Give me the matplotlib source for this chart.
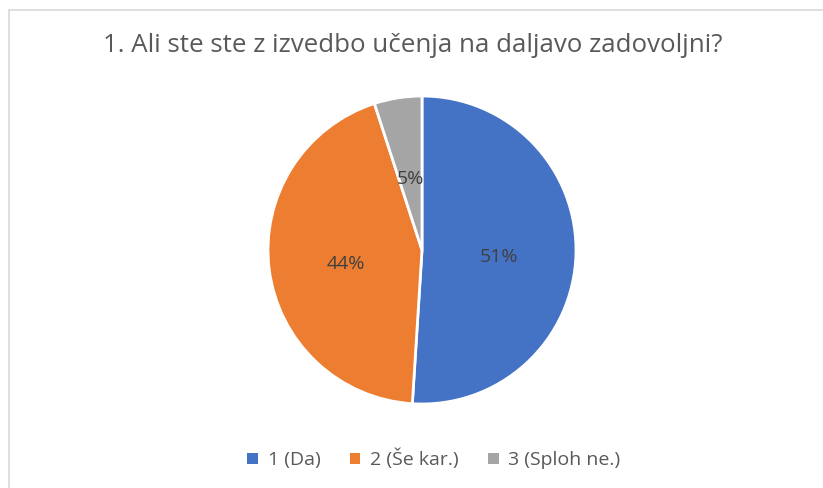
import matplotlib
matplotlib.use("Agg")
import matplotlib.pyplot as plt
from matplotlib.lines import Line2D
from matplotlib.patches import Rectangle

title = "1. Ali ste ste z izvedbo učenja na daljavo zadovoljni?"
categories = ["1 (Da)", "2 (Še kar.)", "3 (Sploh ne.)"]
values = [51, 44, 5]
colors = ["#4472C4", "#ED7D31", "#A5A5A5"]

plt.rcParams['font.family'] = ['Open Sans', 'DejaVu Sans']
W, H = 823, 488
fig = plt.figure(figsize=(W / 100, H / 100), dpi=100)
fig.patch.set_facecolor("white")

# chart frame
fig.add_artist(Line2D([8.5 / W, 8.5 / W], [0, 1 - 9.5 / H], color="#D9D9D9", lw=1.2))
fig.add_artist(Line2D([8.5 / W, 1], [1 - 9.5 / H, 1 - 9.5 / H], color="#D9D9D9", lw=1.2))

fig.text(413 / W, 1 - 46 / H, title, ha="center", va="center", fontsize=18.6, color="#595959")

r = 154
cx, cy = 422, 250
ax = fig.add_axes([(cx - r) / W, 1 - (cy + r) / H, 2 * r / W, 2 * r / H])
wedges, texts, autotexts = ax.pie(
    values, colors=colors, startangle=90, counterclock=False,
    autopct=lambda p: f"{p:.0f}%", pctdistance=0.5,
    wedgeprops=dict(edgecolor="white", linewidth=2),
    textprops=dict(color="#404040", fontsize=14),
)
for t in autotexts:
    x, y = t.get_position()
    t.set_position((x, y - 0.03))
ax.set_xlim(-1, 1)
ax.set_ylim(-1, 1)
ax.set_aspect("equal")

handles = [Rectangle((0, 0), 1, 1, facecolor=c, edgecolor="none") for c in colors]
fig.legend(handles, categories, loc="center", bbox_to_anchor=(434 / W, 1 - 459 / H),
           ncol=3, frameon=False, fontsize=14, handlelength=0.55, handleheight=0.55,
           handletextpad=0.5, columnspacing=1.5, labelcolor="#595959")

fig.savefig("out.png", dpi=100, facecolor="white")
